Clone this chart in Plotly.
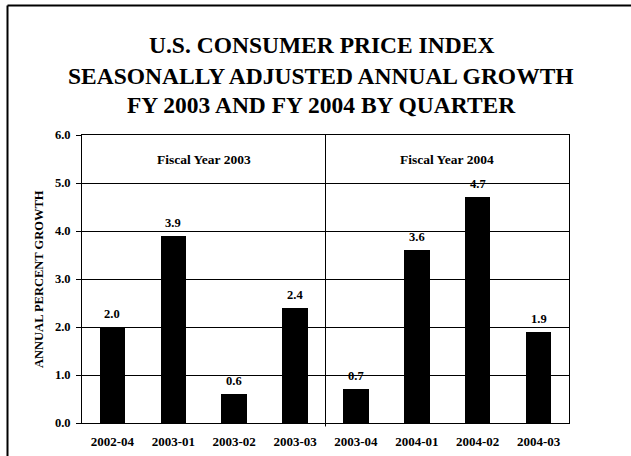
import plotly.graph_objects as go

# Quarterly CPI growth, seasonally adjusted annual rate (percent)
quarters = ["2002-04", "2003-01", "2003-02", "2003-03",
            "2003-04", "2004-01", "2004-02", "2004-03"]
growth = [2.0, 3.9, 0.6, 2.4, 0.7, 3.6, 4.7, 1.9]
fiscal_years = ["Fiscal Year 2003", "Fiscal Year 2004"]
title_lines = ["U.S. CONSUMER PRICE INDEX",
               "SEASONALLY ADJUSTED ANNUAL GROWTH",
               "FY 2003 AND FY 2004 BY QUARTER"]
y_ticks = [0, 1, 2, 3, 4, 5, 6]

SERIF = "Liberation Serif"
W, H = 631, 456
L, R, T, B = 82, 62, 135, 33
plot_w = W - L - R
plot_h = H - T - B

xs = list(range(len(quarters)))

fig = go.Figure()
fig.add_trace(go.Bar(
    x=xs, y=growth, width=0.42,
    marker=dict(color="black", line=dict(width=0)),
    hoverinfo="skip",
))

# value labels above each bar
for xi, v in zip(xs, growth):
    fig.add_annotation(x=xi, y=v, text=f"{v:.1f}", showarrow=False,
                       yanchor="middle", yshift=13,
                       font=dict(family=SERIF, size=12.5, color="black", weight="bold"))

# fiscal-year headers in each half of the plot
for i, fy in enumerate(fiscal_years):
    fig.add_annotation(x=1.5 + 4 * i, y=5.5, text=fy, showarrow=False,
                       yanchor="middle",
                       font=dict(family=SERIF, size=13.5, color="black", weight="bold"))

# three-line title
def px_to_paper_y(py):
    return (H - B - py) / plot_h

def px_to_paper_x(px):
    return (px - L) / plot_w

for line, cy in zip(title_lines, [45, 76, 105]):
    fig.add_annotation(xref="paper", yref="paper",
                       x=px_to_paper_x(321), y=px_to_paper_y(cy),
                       text=line, showarrow=False,
                       xanchor="center", yanchor="middle",
                       font=dict(family=SERIF, size=23.5, color="black", weight="bold"))

# rotated y-axis title
fig.add_annotation(xref="paper", yref="paper",
                   x=px_to_paper_x(39), y=px_to_paper_y(279),
                   text="ANNUAL PERCENT GROWTH", textangle=-90, showarrow=False,
                   xanchor="center", yanchor="middle",
                   font=dict(family=SERIF, size=12.5, color="black", weight="bold"))

# divider between the two fiscal years
fig.add_shape(type="line", xref="x", yref="y", x0=3.5, x1=3.5, y0=0, y1=6,
              line=dict(color="black", width=1))
fig.add_shape(type="line", xref="x", yref="paper", x0=3.5, x1=3.5,
              y0=0, y1=-0.012, line=dict(color="black", width=1))

# outer frame (top and left edges)
fig.add_shape(type="line", xref="paper", yref="paper",
              x0=px_to_paper_x(7.5), x1=px_to_paper_x(640),
              y0=px_to_paper_y(5.5), y1=px_to_paper_y(5.5),
              line=dict(color="black", width=2))
fig.add_shape(type="line", xref="paper", yref="paper",
              x0=px_to_paper_x(7.5), x1=px_to_paper_x(7.5),
              y0=px_to_paper_y(5.5), y1=px_to_paper_y(470),
              line=dict(color="black", width=2))

fig.update_xaxes(
    range=[-0.5, 7.5], tickvals=xs, ticktext=quarters,
    showgrid=False, showline=True, linecolor="black", linewidth=1,
    mirror=True, ticks="", zeroline=False, ticklabelstandoff=6,
    automargin=False,
    tickfont=dict(family=SERIF, size=13, color="black", weight="bold"),
)
fig.update_yaxes(
    range=[0, 6], tickvals=y_ticks, ticktext=[f"{v:.1f}" for v in y_ticks],
    showgrid=True, gridcolor="black", gridwidth=1,
    showline=True, linecolor="black", linewidth=1, mirror=True,
    ticks="outside", ticklen=5, tickcolor="black", zeroline=False,
    ticklabelstandoff=3, automargin=False,
    tickfont=dict(family=SERIF, size=12.5, color="black", weight="bold"),
)

fig.update_layout(
    width=W, height=H, autosize=False,
    margin=dict(l=L, r=R, t=T, b=B),
    paper_bgcolor="white", plot_bgcolor="white",
    showlegend=False, bargap=0,
)

fig.write_html("out.html")
